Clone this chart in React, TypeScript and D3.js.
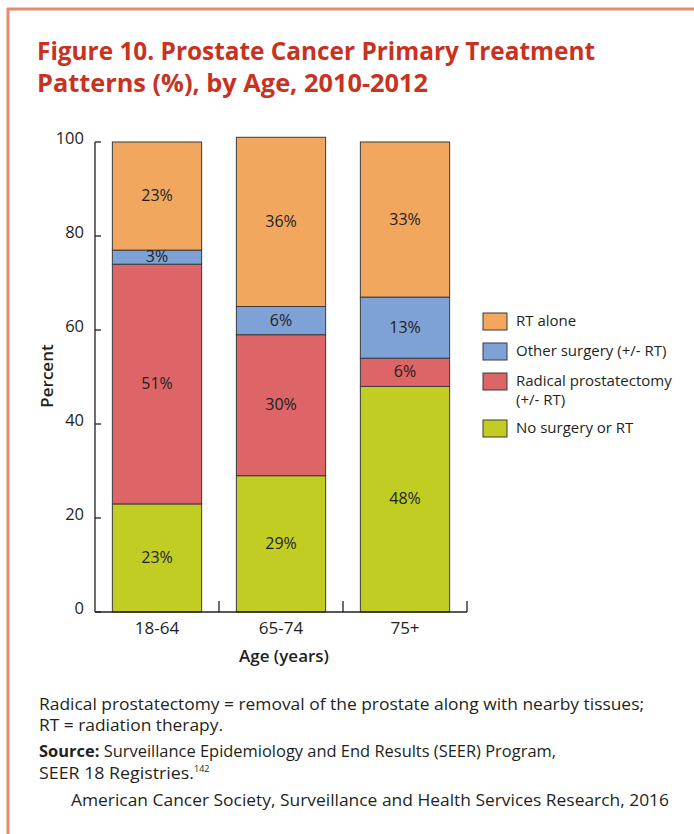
import * as d3 from "d3";

const ageGroups = ["18-64", "65-74", "75+"];
const noSurgery = [23, 29, 48];
const radical = [51, 30, 6];
const otherSurgery = [3, 6, 13];
const rtAlone = [23, 36, 33];
const yTicks = [0, 20, 40, 60, 80, 100];

const seriesKeys = ["none", "radical", "other", "rt"];
const seriesColors: Record<string, string> = {
  none: "#c2cd23",
  radical: "#dd6567",
  other: "#7ea2d6",
  rt: "#f2a75e",
};

const legendItems = [
  { key: "rt", lines: ["RT alone"] },
  { key: "other", lines: ["Other surgery (+/- RT)"] },
  { key: "radical", lines: ["Radical prostatectomy", "(+/- RT)"] },
  { key: "none", lines: ["No surgery or RT"] },
];

const FONT = "'Open Sans', 'Noto Sans', sans-serif";
const INK = "#231f20";

export default function App() {
  const rows = ageGroups.map((g, i) => ({
    group: g,
    none: noSurgery[i],
    radical: radical[i],
    other: otherSurgery[i],
    rt: rtAlone[i],
  }));
  const stacked = d3.stack<any>().keys(seriesKeys)(rows);

  const x = d3
    .scaleBand<string>()
    .domain(ageGroups)
    .range([95, 467])
    .paddingInner(0.28)
    .paddingOuter(0.14);
  const y = d3.scaleLinear().domain([0, 100]).range([612, 142]);
  const step = x.step();
  const x0 = 95;

  return (
    <svg
      width={694}
      height={834}
      style={{ position: "absolute", top: 0, left: 0, background: "#fff" }}
    >
      {/* frame */}
      <line x1={7} x2={694} y1={9} y2={9} stroke="#e38c6f" strokeWidth={3} />
      <line x1={8} x2={8} y1={8} y2={834} stroke="#e38c6f" strokeWidth={3} />

      {/* title */}
      <g fill="#c8321f" fontFamily={FONT} fontWeight={700} fontSize={25}>
        <text x={37} y={60} textLength={558} lengthAdjust="spacingAndGlyphs">
          Figure 10. Prostate Cancer Primary Treatment
        </text>
        <text x={37} y={92} textLength={391} lengthAdjust="spacingAndGlyphs">
          Patterns (%), by Age, 2010-2012
        </text>
      </g>

      {/* bars */}
      {stacked.map((s) => (
        <g key={s.key} fill={seriesColors[s.key]}>
          {s.map((d, i) => (
            <rect
              key={i}
              x={x(ageGroups[i])}
              y={y(d[1])}
              width={x.bandwidth()}
              height={y(d[0]) - y(d[1])}
              stroke="#3a3a3a"
              strokeWidth={1}
            />
          ))}
        </g>
      ))}
      {stacked.map((s) => (
        <g key={s.key + "-lbl"} fontFamily={FONT} fontSize={16} fill={INK} textAnchor="middle">
          {s.map((d, i) => (
            <text key={i} x={x(ageGroups[i])! + x.bandwidth() / 2} y={y((d[0] + d[1]) / 2) + 5}>
              {d[1] - d[0]}%
            </text>
          ))}
        </g>
      ))}

      {/* axes */}
      <g stroke={INK} strokeWidth={1.3} fill="none">
        <line x1={x0} x2={x0} y1={y(100)} y2={y(0)} />
        <line x1={x0} x2={x0 + step * ageGroups.length} y1={y(0)} y2={y(0)} />
        {yTicks.map((t) => (
          <line key={t} x1={x0} x2={x0 + 6} y1={y(t)} y2={y(t)} />
        ))}
        {ageGroups.map((g, i) => (
          <line key={g} x1={x0 + step * (i + 1)} x2={x0 + step * (i + 1)} y1={y(0)} y2={y(0) - 11} />
        ))}
      </g>
      <g fontFamily={FONT} fontSize={16.5} fill={INK} textAnchor="end">
        {yTicks.map((t) => (
          <text key={t} x={84} y={y(t) + 2}>
            {t}
          </text>
        ))}
      </g>
      <g fontFamily={FONT} fontSize={17} fill={INK} textAnchor="middle">
        {ageGroups.map((g) => (
          <text key={g} x={x(g)! + x.bandwidth() / 2} y={634}>
            {g}
          </text>
        ))}
      </g>
      <text
        x={284}
        y={662}
        textAnchor="middle"
        fontFamily={FONT}
        fontSize={17}
        fontWeight={600}
        fill={INK}
      >
        Age (years)
      </text>
      <text
        transform="translate(53,376) rotate(-90)"
        textAnchor="middle"
        fontFamily={FONT}
        fontSize={17}
        fontWeight={600}
        fill={INK}
      >
        Percent
      </text>

      {/* legend */}
      <g fontFamily={FONT} fontSize={15} fill={INK}>
        {legendItems.map((it, i) => {
          const top = [313, 343, 373, 420][i];
          return (
            <g key={it.key}>
              <rect
                x={483}
                y={top}
                width={24}
                height={17}
                fill={seriesColors[it.key]}
                stroke="#3a3a3a"
                strokeWidth={1}
              />
              {it.lines.map((l, j) => (
                <text key={j} x={516} y={top + 13 + j * 19}>
                  {l}
                </text>
              ))}
            </g>
          );
        })}
      </g>

      {/* notes */}
      <g fontFamily={FONT} fontSize={16} fill={INK}>
        <text x={39} y={710} textLength={605} lengthAdjust="spacingAndGlyphs">
          Radical prostatectomy = removal of the prostate along with nearby tissues;
        </text>
        <text x={39} y={731} textLength={184} lengthAdjust="spacingAndGlyphs">
          RT = radiation therapy.
        </text>
        <text x={39} y={757} textLength={517} lengthAdjust="spacingAndGlyphs">
          <tspan fontWeight={700}>Source:</tspan> Surveillance Epidemiology and End Results (SEER) Program,
        </text>
        <text x={39} y={779}>
          <tspan textLength={155} lengthAdjust="spacingAndGlyphs">SEER 18 Registries.</tspan>
          <tspan fontSize={9} dy={-7}>142</tspan>
        </text>
        <text x={71} y={806} textLength={598} lengthAdjust="spacingAndGlyphs">
          American Cancer Society, Surveillance and Health Services Research, 2016
        </text>
      </g>
    </svg>
  );
}
